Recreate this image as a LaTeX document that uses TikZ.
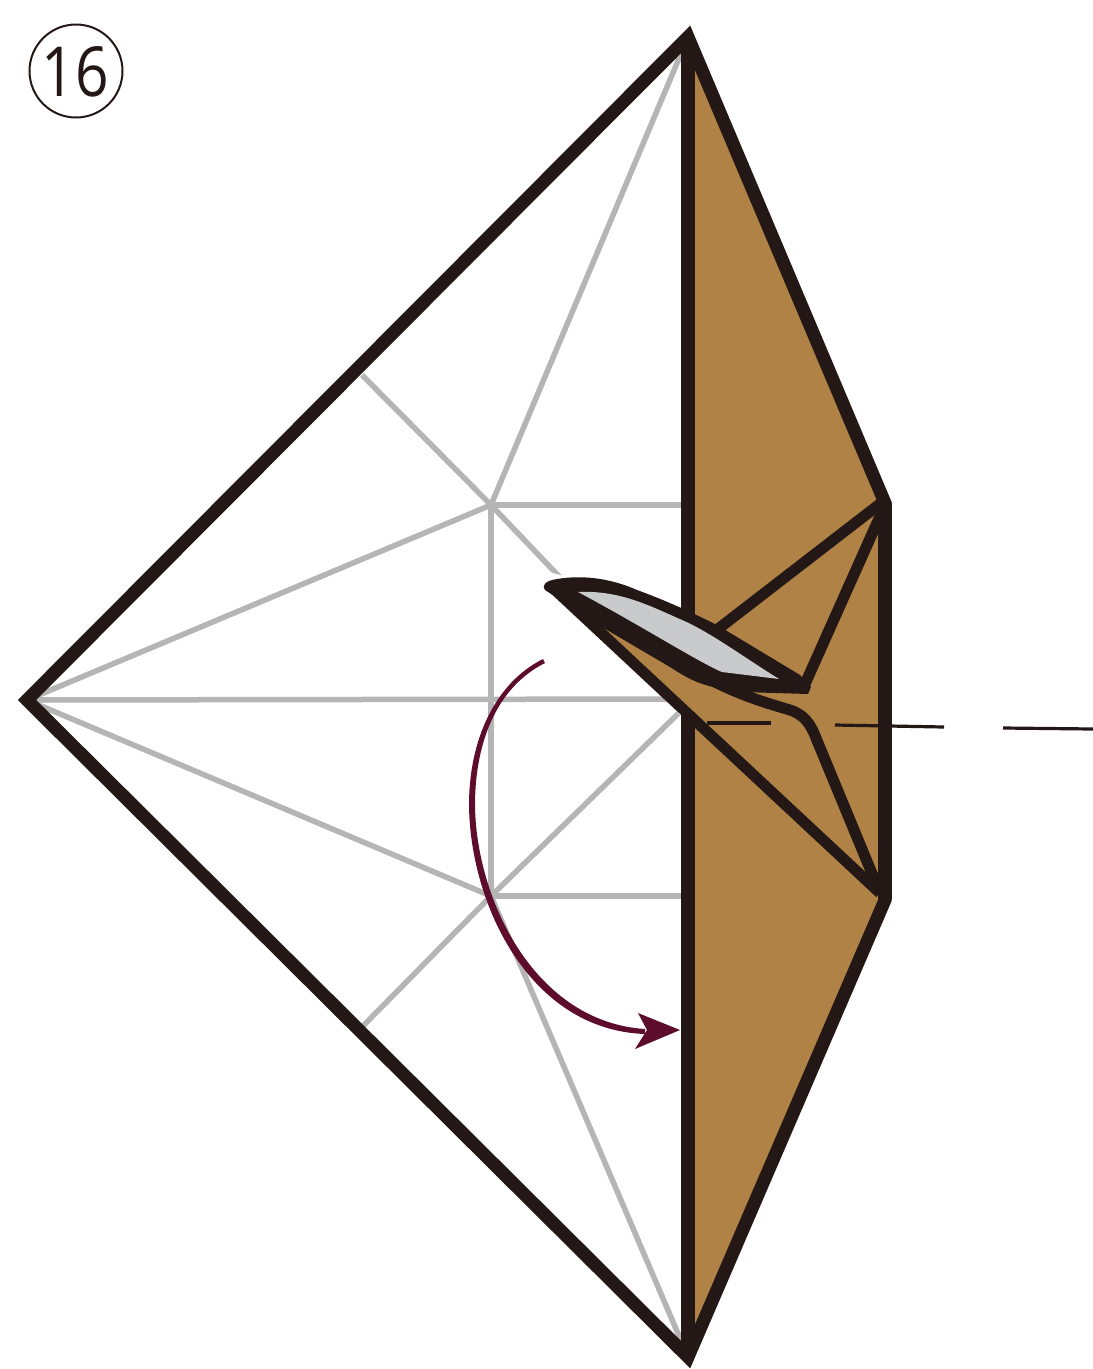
\documentclass[tikz,border=0pt]{standalone}
\usepackage{fontspec}
\setmainfont{Open Sans}
\usetikzlibrary{arrows.meta}
\definecolor{ink}{HTML}{231815}
\definecolor{kraft}{HTML}{B08246}
\definecolor{crease}{HTML}{B5B5B6}
\definecolor{flapgray}{HTML}{C9CACC}
\definecolor{arrowred}{HTML}{5E0C2B}
\tikzset{
  creaseline/.style={draw=crease,line width=5.5pt},
  edge/.style={draw=ink,line width=13pt,line join=miter,miter limit=6},
  spine/.style={draw=ink,line width=14pt},
  inner/.style={draw=ink,line width=11pt,line join=round},
  foldline/.style={draw=ink,line width=3.2pt}
}
\begin{document}
\begin{tikzpicture}[x=1pt,y=-1pt]
\useasboundingbox (0,0) rectangle (1093,1369);
\fill[white] (0,0) rectangle (1093,1369);
% points
\coordinate (T) at (688,37);
\coordinate (B) at (688,1357);
\coordinate (L) at (27,700);
\coordinate (RU) at (885,503);
\coordinate (RD) at (885,900);
\coordinate (A) at (491,505);
\coordinate (C) at (491,896);
\coordinate (M) at (682,699);
% creases
\draw[creaseline] (L) -- (A) (L) -- (M) (L) -- (C);
\draw[creaseline] (T) -- (A) (B) -- (C);
\draw[creaseline] (A) -- (682,505) (C) -- (682,896);
\draw[creaseline] (A) -- (C);
\draw[creaseline] (362,375) -- (A) -- (572,590);
\draw[creaseline] (362,1027) -- (C) -- (684,708);
% brown surfaces
\fill[kraft] (T) -- (RU) -- (RD) -- (B) -- cycle;
\fill[white] (540,570) -- (681,605) -- (681,716) -- cycle;
\fill[kraft] (600,625) -- (700,680) -- (790,700) -- (880,895) -- (680,706) -- cycle;
% fold line across the model
\draw[foldline] (707,723) -- (771,723);
\draw[foldline] (835,725) -- (944,727);
\draw[foldline] (1003,728) -- (1093,729);
% inner folds
\draw[inner] (885,500) -- (718,629);
\draw[inner] (885,505) -- (805,684);
\draw[inner] (715,682) .. controls (745,697) and (770,704) .. (790,710)
  .. controls (805,715) and (811,725) .. (816,738) -- (878,888);
% main outline
\draw[spine] (688,622) -- (T);
\draw[spine] (688,712) -- (B);
\draw[spine,line cap=round] (885,505) -- (885,897);
\draw[edge] (L) -- (T) -- (RU) -- (RD) -- (B) -- cycle;
% flap
\draw[inner] (552,587) -- (880,893);
\fill[ink] (545,590) .. controls (541,584) and (548,581) .. (552,580)
  .. controls (580,574) and (610,578) .. (637,590)
  .. controls (665,600) and (695,614) .. (717,625)
  -- (800,675) -- (811,687) -- (808,694) -- (742,692)
  -- (727,690) .. controls (700,685) and (690,680) .. (670,667) -- (607,630) -- cycle;
\fill[flapgray] (578,592) .. controls (620,590) and (650,606) .. (682,620)
  .. controls (710,632) and (745,658) .. (779,679)
  -- (722,672) .. controls (700,663) and (640,625) .. cycle;
% arrow
\fill[arrowred] (543,659) .. controls (495,683) and (469,740) .. (469,805)
  .. controls (470,905) and (530,1030) .. (645,1034)
  -- (645,1029) .. controls (535,1022) and (476,900) .. (475,805)
  .. controls (475,742) and (497,687) .. (545,663) -- cycle;
\fill[arrowred] (680,1030) -- (638,1013) -- (647,1030) -- (635,1049) -- cycle;
% step number
\node[circle,draw=ink,line width=2pt,minimum size=93pt,inner sep=0pt] (n) at (76,71) {};
\node[text=ink,inner sep=0pt] (num) at (75,72) {\scalebox{.85}[1]{\fontsize{69}{69}\selectfont 16}};
\end{tikzpicture}
\end{document}
